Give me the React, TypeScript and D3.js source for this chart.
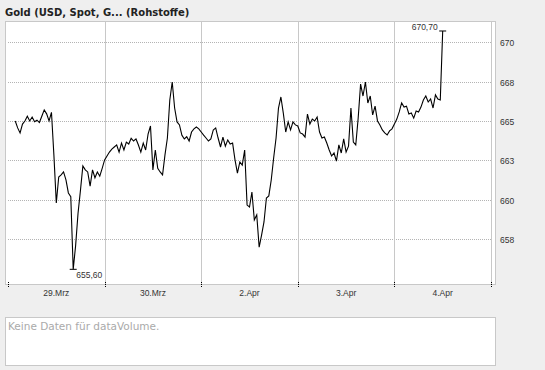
import React, { useEffect, useRef } from "react"
import * as d3 from "d3"

// intraday gold quotes, one value per slot (40 slots per trading day)
const dayLabels = ["29.Mrz", "30.Mrz", "2.Apr", "3.Apr", "4.Apr"]
const slotsPerDay = 40
const firstSlot = 3

const mar29 = [
  665.0, 664.56, 664.24, 664.8, 665.0, 665.3, 665.0, 665.25, 664.95, 665.05,
  664.9, 665.3, 665.7, 665.45, 665.0, 665.55, 662.85, 659.8, 661.45, 661.58,
  661.77, 661.27, 660.44, 660.2, 655.6, 657.1, 659.15, 660.6, 662.15, 661.9,
  661.77, 660.87, 661.9, 661.4, 661.77, 661.5, 662.0
]
const mar30 = [
  662.53, 662.78, 663.03, 663.22, 663.35, 663.48, 663.03, 663.6, 663.16, 663.66,
  663.54, 663.9, 663.73, 663.86, 663.48, 663.03, 663.6, 663.16, 664.17, 664.68,
  661.9, 663.16, 662.0, 661.77, 661.58, 662.85, 663.92, 666.33, 667.47, 665.82,
  664.94, 664.75, 664.1, 663.86, 664.0, 663.73, 664.3, 664.5, 664.62, 664.5
]
const apr2 = [
  664.3, 664.1, 663.92, 663.73, 663.86, 664.43, 664.56, 663.92, 663.35, 663.98,
  663.4, 663.8, 663.54, 663.6, 662.53, 661.7, 662.4, 662.2, 663.16, 659.67,
  659.55, 660.5, 658.73, 659.05, 657.0, 657.77, 658.6, 660.12, 660.25, 661.26,
  662.65, 663.92, 665.82, 666.52, 665.5, 664.3, 664.94, 664.43, 664.94, 664.75
]
const apr3 = [
  664.68, 664.24, 664.17, 663.98, 665.44, 664.8, 665.12, 665.0, 665.25, 664.3,
  663.92, 663.98, 663.6, 663.16, 662.78, 662.97, 662.46, 663.48, 662.97, 663.86,
  663.03, 663.4, 665.82, 663.66, 663.48, 665.18, 667.34, 666.58, 667.47, 666.14,
  666.58, 665.38, 665.94, 665.0, 664.75, 664.43, 664.24, 664.11, 664.37, 664.5
]
const apr4 = [
  664.8, 665.12, 665.57, 666.14, 665.88, 665.94, 665.44, 665.5, 665.18, 665.63,
  665.57, 665.88, 666.33, 666.58, 666.2, 666.39, 665.82, 666.65, 666.39, 666.33,
  670.7
]

const priceTicks = [657.5, 660, 662.5, 665, 667.5, 670]
const title = "Gold (USD, Spot, G... (Rohstoffe)"
const noVolumeText = "Keine Daten für dataVolume."

const W = 545
const H = 370
const font = "'Liberation Sans', Arial, sans-serif"
const wideFont = "'DejaVu Sans', Verdana, sans-serif"

export default function App() {
  const ref = useRef<SVGSVGElement>(null)

  useEffect(() => {
    const svg = d3.select(ref.current)
    svg.selectAll("*").remove()

    const left = 8
    const right = 491
    const top = 22
    const bottom = 284

    const prices = [mar29, mar30, apr2, apr3, apr4].flat()
    const data = prices.map((v, i) => ({ slot: firstSlot + i, v }))

    const x = d3.scaleLinear().domain([0, dayLabels.length * slotsPerDay]).range([left, right])
    const y = d3.scaleLinear().domain([654.67, 671.27]).range([bottom, top])
    const deFormat = d3.formatLocale({ decimal: ",", thousands: ".", grouping: [3], currency: ["", "€"] }).format(".2f")

    svg.append("rect").attr("width", W).attr("height", H).attr("fill", "#efefef")

    svg.append("text").attr("x", 5).attr("y", 16)
      .attr("font-family", wideFont).attr("font-size", 10).attr("font-weight", "bold").attr("fill", "#222")
      .text(title)

    // main plot box
    svg.append("rect").attr("x", 5.5).attr("y", top - 0.5).attr("width", 490).attr("height", bottom - top + 1)
      .attr("fill", "#fff").attr("stroke", "#c8c8c8")

    // horizontal dotted grid + right axis labels
    priceTicks.forEach(t => {
      const yy = Math.round(y(t)) + 0.5
      svg.append("line").attr("x1", left).attr("x2", right).attr("y1", yy).attr("y2", yy)
        .attr("stroke", "#b4b4b4").attr("stroke-dasharray", "1,1")
      svg.append("text").attr("x", 500).attr("y", yy + 3)
        .attr("font-family", font).attr("font-size", 8.5).attr("fill", "#333")
        .text(t.toFixed(0))
    })

    // day gridlines, ticks, labels
    d3.range(dayLabels.length + 1).forEach(d => {
      const xx = Math.round(x(d * slotsPerDay)) + 0.5
      if (d > 0) {
        svg.append("line").attr("x1", xx).attr("x2", xx).attr("y1", top).attr("y2", bottom)
          .attr("stroke", "#c8c8c8")
      }
      svg.append("line").attr("x1", xx).attr("x2", xx).attr("y1", bottom - 2).attr("y2", bottom + 4)
        .attr("stroke", "#000").attr("stroke-dasharray", "1,1")
    })
    dayLabels.forEach((lab, d) => {
      svg.append("text").attr("x", x((d + 0.5) * slotsPerDay)).attr("y", 296)
        .attr("text-anchor", "middle").attr("font-family", font).attr("font-size", 8.5).attr("fill", "#333")
        .text(lab)
    })

    const line = d3.line<{ slot: number, v: number }>().x(d => x(d.slot)).y(d => y(d.v))
    svg.append("path").datum(data).attr("d", line).attr("fill", "none")
      .attr("stroke", "#000").attr("stroke-width", 1.1).attr("stroke-linejoin", "miter")

    // high / low markers
    const hi = data[d3.maxIndex(data, d => d.v)]
    const lo = data[d3.minIndex(data, d => d.v)]
    svg.append("line").attr("x1", x(hi.slot) - 3.5).attr("x2", x(hi.slot) + 3.5)
      .attr("y1", y(hi.v)).attr("y2", y(hi.v)).attr("stroke", "#000")
    svg.append("text").attr("x", x(hi.slot) - 5).attr("y", y(hi.v) - 1).attr("text-anchor", "end")
      .attr("font-family", font).attr("font-size", 8.5).attr("fill", "#333").text(deFormat(hi.v))
    svg.append("line").attr("x1", x(lo.slot) - 3.5).attr("x2", x(lo.slot) + 3.5)
      .attr("y1", y(lo.v)).attr("y2", y(lo.v)).attr("stroke", "#000")
    svg.append("text").attr("x", x(lo.slot) + 3).attr("y", y(lo.v) + 9)
      .attr("font-family", font).attr("font-size", 8.5).attr("fill", "#333").text(deFormat(lo.v))

    // volume panel
    svg.append("rect").attr("x", 5.5).attr("y", 317.5).attr("width", 490).attr("height", 48)
      .attr("fill", "#fff").attr("stroke", "#c8c8c8")
    svg.append("text").attr("x", 8).attr("y", 330)
      .attr("font-family", wideFont).attr("font-size", 10.5).attr("fill", "#aaa")
      .text(noVolumeText)
  }, [])

  return (
    <svg ref={ref} width={W} height={H} style={{ position: "absolute", left: 0, top: 0 }} />
  )
}
